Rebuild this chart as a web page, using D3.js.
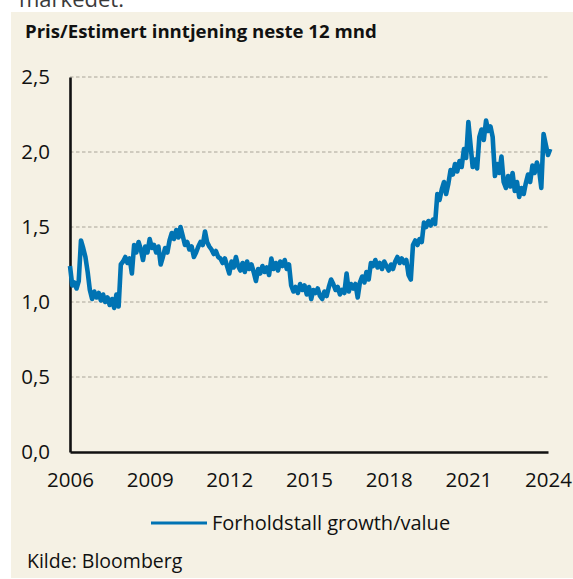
<!DOCTYPE html>
<html><head><meta charset="utf-8">
<script src="https://cdn.jsdelivr.net/npm/d3@7"></script>
<style>
html,body{margin:0;padding:0;background:#fff;}
svg{display:block;}
text{font-family:"Open Sans",sans-serif;}
</style></head>
<body>
<svg id="chart" width="573" height="579"></svg>
<script>
// ---- data (monthly, starting Jan 2006) ----
const startMonth = "2006-01";
const seriesName = "Forholdstall growth/value";
const values = [
  1.24,1.11,1.13,1.09,1.14,1.41,1.36,1.30,1.20,1.08,1.02,1.07,
  1.03,1.06,1.01,1.05,1.00,1.03,0.98,1.02,0.96,1.05,0.97,1.25,
  1.27,1.30,1.26,1.29,1.19,1.38,1.33,1.40,1.35,1.28,1.37,1.33,
  1.42,1.36,1.38,1.33,1.37,1.25,1.30,1.36,1.33,1.41,1.46,1.42,
  1.48,1.43,1.50,1.44,1.38,1.40,1.35,1.37,1.30,1.33,1.37,1.40,
  1.38,1.47,1.40,1.37,1.35,1.32,1.34,1.30,1.29,1.26,1.29,1.24,
  1.19,1.27,1.23,1.30,1.24,1.21,1.26,1.20,1.27,1.22,1.25,1.20,
  1.14,1.22,1.19,1.24,1.20,1.23,1.18,1.29,1.22,1.26,1.21,1.27,
  1.24,1.28,1.22,1.25,1.11,1.07,1.10,1.06,1.12,1.08,1.11,1.05,
  1.10,1.02,1.08,1.06,1.09,1.04,1.02,1.07,1.04,1.10,1.15,1.12,
  1.08,1.10,1.05,1.08,1.06,1.19,1.07,1.12,1.09,1.12,1.03,1.13,
  1.17,1.13,1.20,1.15,1.26,1.24,1.28,1.23,1.26,1.22,1.27,1.24,
  1.21,1.25,1.22,1.27,1.30,1.26,1.29,1.26,1.28,1.18,1.15,1.38,
  1.41,1.38,1.42,1.40,1.53,1.50,1.54,1.51,1.55,1.52,1.72,1.68,
  1.75,1.80,1.72,1.79,1.88,1.85,1.92,1.87,1.94,1.90,2.02,1.96,
  2.20,2.04,1.90,1.95,1.89,2.10,2.15,2.08,2.21,2.14,2.17,2.10,
  1.84,1.92,1.86,1.97,1.80,1.76,1.84,1.77,1.86,1.74,1.80,1.70,
  1.76,1.72,1.79,1.85,1.80,1.91,1.86,1.93,1.88,1.76,2.12,2.05,
  1.98,2.02
];
const xTickYears = [2006, 2009, 2012, 2015, 2018, 2021, 2024];
const yTicks = [0, 0.5, 1.0, 1.5, 2.0, 2.5];
const title = "Pris/Estimert inntjening neste 12 mnd";
const source = "Kilde: Bloomberg";
const aboveText = "markedet.";

// ---- build ----
const parseMonth = d3.timeParse("%Y-%m");
const start = parseMonth(startMonth);
const data = values.map((v, i) => ({date: d3.timeMonth.offset(start, i), value: v}));

const svg = d3.select("#chart");
const fmt = d3.formatLocale({decimal: ",", thousands: " ", grouping: [3], currency: ["", " kr"]}).format(".1f");

// cropped text above the panel (cut off in the reference too)
svg.append("text").attr("x", 19).attr("y", 7).attr("font-size", 22).attr("fill", "#3a3a3a").text(aboveText);

// panel
svg.append("rect").attr("x", 11).attr("y", 12).attr("width", 562).attr("height", 566).attr("fill", "#f5f1e4");

svg.append("text").attr("x", 25).attr("y", 38).attr("font-size", 18.6).attr("font-weight", "bold").attr("fill", "#111").text(title);

const x = d3.scaleTime().domain([new Date(2006,0,1), new Date(2024,0,1)]).range([70, 548]);
const y = d3.scaleLinear().domain([0, 2.5]).range([452, 77]);

// gridlines
svg.append("g").selectAll("line").data(yTicks.filter(d => d > 0)).join("line")
  .attr("x1", 70).attr("x2", 548).attr("y1", d => y(d)).attr("y2", d => y(d))
  .attr("stroke", "#a9a498").attr("stroke-width", 1).attr("stroke-dasharray", "3.5,2.5");

// y axis
const yAxis = d3.axisLeft(y).tickValues(yTicks).tickFormat(fmt).tickSize(0).tickPadding(20);
const gy = svg.append("g").attr("transform", "translate(70,0)").call(yAxis);
gy.select(".domain").attr("stroke", "#111").attr("stroke-width", 2.6);
gy.selectAll("text").attr("font-size", 20.5).attr("fill", "#111").attr("font-family", "Open Sans");

// x axis
const xAxis = d3.axisBottom(x).tickValues(xTickYears.map(yr => new Date(yr,0,1))).tickFormat(d3.timeFormat("%Y")).tickSize(0).tickPadding(20);
const gx = svg.append("g").attr("transform", "translate(0,452)").call(xAxis);
gx.select(".domain").attr("stroke", "#111").attr("stroke-width", 2.6);
gx.selectAll("text").attr("font-size", 20.5).attr("fill", "#111").attr("font-family", "Open Sans");

// line
const line = d3.line().x(d => x(d.date)).y(d => y(d.value));
svg.append("path").datum(data).attr("d", line).attr("fill", "none")
  .attr("stroke", "#0073b3").attr("stroke-width", 4.6).attr("stroke-linejoin", "round");

// legend
svg.append("line").attr("x1", 151).attr("x2", 207).attr("y1", 523).attr("y2", 523).attr("stroke", "#0073b3").attr("stroke-width", 3);
svg.append("text").attr("x", 212).attr("y", 530).attr("font-size", 20).attr("fill", "#111").text(seriesName);

// source
svg.append("text").attr("x", 27).attr("y", 568).attr("font-size", 19.5).attr("fill", "#111").text(source);
</script>
</body></html>
